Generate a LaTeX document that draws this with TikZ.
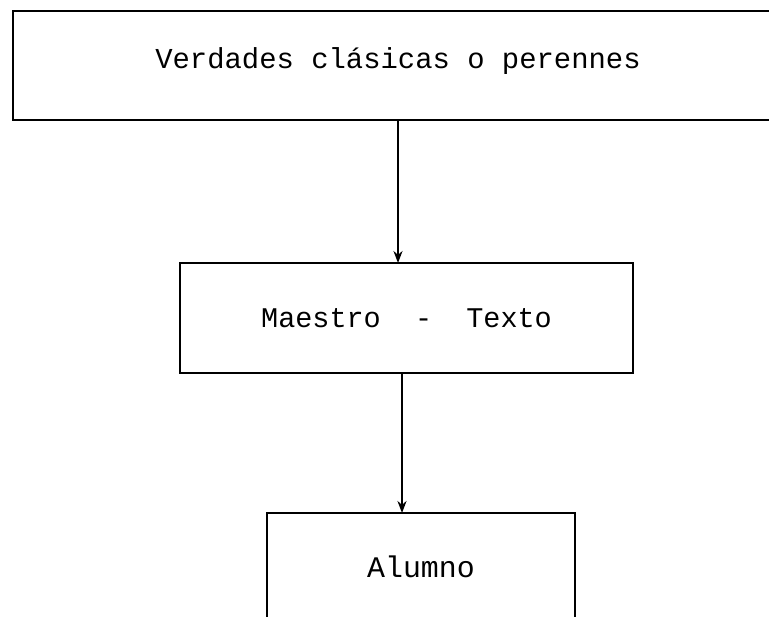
\documentclass[tikz,border=0pt]{standalone}
\usepackage{fontspec}
\setmainfont{Liberation Serif}
\newfontfamily\typefont{Liberation Mono}
\usetikzlibrary{arrows.meta}
\tikzset{
  boxnode/.style={draw, line width=2.2bp, inner sep=0pt, outer sep=0pt},
  arrowline/.style={line width=2.2bp, -{Stealth[length=12bp,width=9bp]}}
}
\begin{document}
\begin{tikzpicture}[x=1bp,y=-1bp]
\useasboundingbox (0,0) rectangle (769,617);
\node[boxnode, minimum width=770bp, minimum height=109bp, text height=20bp, text depth=13bp,
      font=\typefont\fontsize{29}{34}\selectfont] (verdades) at (398,65.5) {Verdades clásicas o perennes};
\node[boxnode, minimum width=453bp, minimum height=110bp,
      font=\typefont\fontsize{28.6}{34}\selectfont] (maestro) at (406.5,318) {Maestro\ \ -\ \ Texto};
\node[boxnode, minimum width=308bp, minimum height=107bp,
      font=\typefont\fontsize{30}{34}\selectfont] (alumno) at (421,566.5) {Alumno};
\draw[arrowline] (verdades.south -| 398,0) -- (maestro.north -| 398,0);
\draw[arrowline] (maestro.south -| 402,0) -- (alumno.north -| 402,0);
\end{tikzpicture}
\end{document}
